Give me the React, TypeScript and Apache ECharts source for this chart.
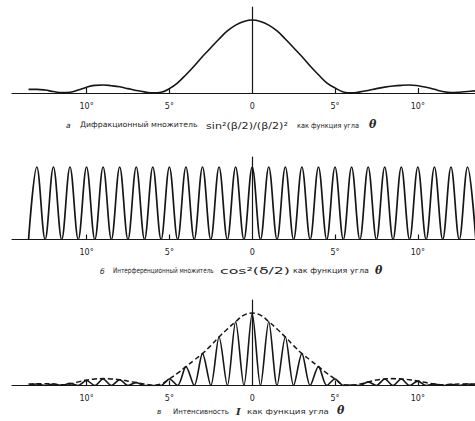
import { useEffect, useRef } from "react";
import * as echarts from "echarts";

// Tick marks and tick labels (degrees), shown without sign as in the reference
const tickValues = [-10, -5, 5, 10];
const labelValues = [-10, -5, 0, 5, 10];

// Samples every 0.5°, from -13.5° to 13.5°
const sampleStart = -13.5;
const sampleStep = 0.5;

// (a) Diffraction factor
const diffraction = [
  0.05, 0.05, 0.04, 0.02, 0.005, 0.01, 0.04, 0.08, 0.105, 0.11, 0.1, 0.085, 0.06, 0.035,
  0.015, 0.003, 0.01, 0.06, 0.14, 0.25, 0.37, 0.5, 0.62, 0.74, 0.85, 0.93, 0.98, 1.0,
  0.98, 0.93, 0.85, 0.74, 0.62, 0.5, 0.37, 0.25, 0.14, 0.07, 0.015, 0.003, 0.015, 0.035,
  0.06, 0.08, 0.095, 0.105, 0.11, 0.1, 0.08, 0.05, 0.02, 0.005, 0.01, 0.02, 0.03,
];

// (c) Dashed envelope
const envelope = [
  0.02, 0.025, 0.025, 0.02, 0.01, 0.02, 0.05, 0.075, 0.09, 0.095, 0.09, 0.08, 0.06, 0.04,
  0.02, 0.005, 0.02, 0.09, 0.17, 0.26, 0.35, 0.44, 0.55, 0.67, 0.78, 0.88, 0.97, 1.0,
  0.97, 0.88, 0.78, 0.67, 0.55, 0.44, 0.35, 0.26, 0.17, 0.09, 0.01, 0.005, 0.02, 0.05,
  0.075, 0.09, 0.095, 0.09, 0.08, 0.06, 0.04, 0.02, 0.01, 0.015, 0.02, 0.02, 0.02,
];

// Fringe maxima (at whole degrees); minima touch the baseline halfway between
const peakAngles = [
  -13, -12, -11, -10, -9, -8, -7, -6, -5, -4, -3, -2, -1, 0, 1, 2, 3, 4, 5, 6, 7, 8, 9, 10, 11, 12, 13,
];
const interferencePeaks = [
  1, 1, 1, 1, 1, 1, 1, 1, 1, 1, 1, 1, 1, 1, 1, 1, 1, 1, 1, 1, 1, 1, 1, 1, 1, 1, 1,
];
const intensityPeaks = [
  0.02, 0.02, 0.03, 0.07, 0.09, 0.08, 0.04, 0.0, 0.09, 0.26, 0.44, 0.67, 0.88, 0.99, 0.88,
  0.67, 0.44, 0.26, 0.09, 0.005, 0.05, 0.09, 0.09, 0.06, 0.02, 0.015, 0.02,
];
const troughValue = 0;

// Caption texts
const captionA = ["а", "Дифракционный множитель", "sin²(β/2)/(β/2)²", "как функция угла", "θ"];
const captionB = ["б", "Интерференционный множитель", "cos²(δ/2)", "как функция угла", "θ"];
const captionC = ["в", "Интенсивность", "I", "как функция угла", "θ"];

const sampled = (vals: number[]) => vals.map((v, i) => [sampleStart + i * sampleStep, v]);
const fringe = (peaks: number[]) => {
  const pts: number[][] = [[peakAngles[0] - 0.5, troughValue]];
  peakAngles.forEach((a, i) => {
    pts.push([a, peaks[i]]);
    pts.push([a + 0.5, troughValue]);
  });
  return pts;
};

const INK = "#161616";
const SANS = "DejaVu Sans";
const SERIF = "DejaVu Serif";

let measureCtx: CanvasRenderingContext2D | null = null;
const measure = (text: string, font: string) => {
  if (!measureCtx) measureCtx = document.createElement("canvas").getContext("2d");
  if (!measureCtx) return 0;
  measureCtx.font = font;
  return measureCtx.measureText(text).width;
};

export default function App() {
  const ref = useRef<HTMLDivElement>(null);
  useEffect(() => {
    if (!ref.current) return;
    const chart = echarts.init(ref.current, null, { renderer: "svg" });

    const grids = [
      { left: 12, right: 0, top: 7, height: 86 },
      { left: 12, right: 0, top: 157, height: 82.5 },
      { left: 12, right: 0, top: 300, height: 85.5 },
    ];
    const yMax = [86 / 73, 82.5 / 72.5, 85.5 / 72.5];

    const xAxes = grids.map((_, i) => ({
      type: "value",
      gridIndex: i,
      min: -14.5,
      max: 13.45,
      axisLine: { show: true, onZero: false, lineStyle: { color: INK, width: 1.2 } },
      axisTick: {
        show: true,
        inside: true,
        length: 5,
        customValues: tickValues,
        lineStyle: { color: INK, width: 1.2 },
      },
      axisLabel: {
        show: true,
        customValues: labelValues,
        formatter: (v: number) => (v === 0 ? "0" : Math.abs(v) + "°"),
        fontSize: 8,
        fontFamily: SANS,
        color: "#222",
        margin: 9,
      },
      splitLine: { show: false },
    }));

    const yAxes = grids.map((_, i) => ({
      type: "value",
      gridIndex: i,
      min: 0,
      max: yMax[i],
      axisLine: { show: true, onZero: true, lineStyle: { color: INK, width: 1.2 } },
      axisTick: { show: false },
      axisLabel: { show: false },
      splitLine: { show: false },
    }));

    const lineBase = {
      type: "line",
      showSymbol: false,
      symbol: "none",
      silent: true,
      clip: true,
    };

    const series = [
      {
        ...lineBase,
        name: "diffraction",
        xAxisIndex: 0,
        yAxisIndex: 0,
        smooth: 0.4,
        data: sampled(diffraction),
        lineStyle: { color: INK, width: 1.6 },
      },
      {
        ...lineBase,
        name: "interference",
        xAxisIndex: 1,
        yAxisIndex: 1,
        smooth: 0.36,
        data: fringe(interferencePeaks),
        lineStyle: { color: INK, width: 1.7 },
      },
      {
        ...lineBase,
        name: "envelope",
        xAxisIndex: 2,
        yAxisIndex: 2,
        smooth: 0.4,
        data: sampled(envelope),
        lineStyle: { color: INK, width: 1.5, type: [5, 3] },
      },
      {
        ...lineBase,
        name: "intensity",
        xAxisIndex: 2,
        yAxisIndex: 2,
        smooth: 0.3,
        data: fringe(intensityPeaks),
        lineStyle: { color: INK, width: 1.6 },
      },
    ];

    // Text fitted to a target width by horizontal scaling
    const txt = (
      x: number,
      y: number,
      text: string,
      opts: { size?: number; family?: string; italic?: boolean; bold?: boolean; width?: number } = {}
    ) => {
      const size = opts.size ?? 7.5;
      const family = opts.family ?? SANS;
      const fontStyle = opts.italic ? "italic" : "normal";
      const fontWeight = opts.bold ? "bold" : "normal";
      let scaleX = 1;
      if (opts.width) {
        const w = measure(text, `${fontStyle} ${fontWeight} ${size}px "${family}"`);
        if (w > 0) scaleX = opts.width / w;
      }
      return {
        type: "text",
        x,
        y,
        scaleX,
        silent: true,
        style: {
          text,
          fill: "#262626",
          fontSize: size,
          fontFamily: family,
          fontStyle,
          fontWeight,
          verticalAlign: "middle",
          align: "left",
        },
      };
    };

    const graphic = [
      // (a)
      txt(66, 125, captionA[0], { italic: true }),
      txt(80, 125, captionA[1], { width: 118 }),
      txt(206, 125, captionA[2], { size: 9.5, width: 82 }),
      txt(297, 125, captionA[3], { width: 62 }),
      txt(369, 124, captionA[4], { size: 11, italic: true, bold: true, family: SERIF }),
      // (b)
      txt(100, 271, captionB[0], { italic: true }),
      txt(113, 271, captionB[1], { width: 101 }),
      txt(220, 271, captionB[2], { size: 9.5, width: 70 }),
      txt(293, 271, captionB[3], { width: 76 }),
      txt(375, 270, captionB[4], { size: 11, italic: true, bold: true, family: SERIF }),
      // (c)
      txt(157, 411, captionC[0], { italic: true }),
      txt(173, 411, captionC[1], { width: 56 }),
      txt(236, 411, captionC[2], { size: 10, italic: true, bold: true, family: SERIF }),
      txt(247, 411, captionC[3], { width: 82 }),
      txt(337, 410, captionC[4], { size: 11, italic: true, bold: true, family: SERIF }),
    ];

    chart.setOption({
      animation: false,
      backgroundColor: "#ffffff",
      grid: grids,
      xAxis: xAxes,
      yAxis: yAxes,
      series,
      graphic,
    } as any);

    return () => chart.dispose();
  }, []);

  return (
    <div
      ref={ref}
      style={{ position: "absolute", left: 0, top: 0, width: 475, height: 421, background: "#fff" }}
    />
  );
}
